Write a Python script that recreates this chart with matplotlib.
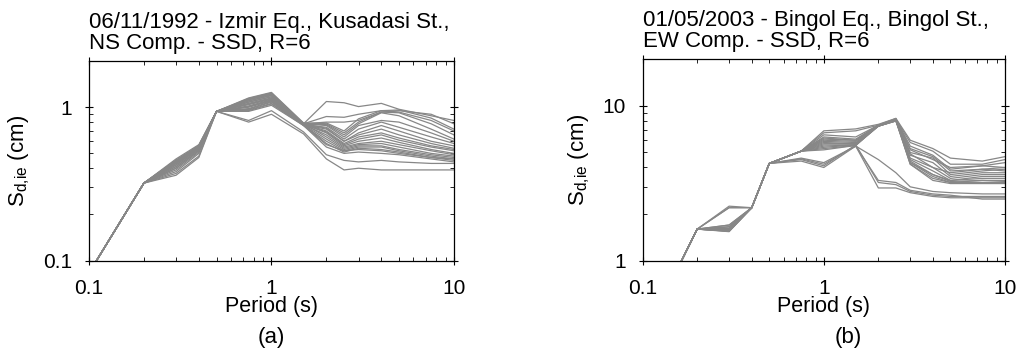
import numpy as np
import matplotlib.pyplot as plt
from matplotlib.ticker import FuncFormatter, NullFormatter

plt.rcParams['font.family'] = ['Liberation Sans', 'DejaVu Sans']
plt.rcParams['mathtext.fontset'] = 'custom'
plt.rcParams['mathtext.rm'] = 'Liberation Sans'

# spectral periods (s)
periods = [0.1, 0.2, 0.3, 0.4, 0.5, 0.75, 1.0, 1.5, 2.0, 2.5, 3.0, 4.0, 5.0, 7.5, 10.0]

# (a) Izmir Eq., Kusadasi St., NS - inelastic displacement (cm)
sd_izmir = [
    [0.083, 0.32, 0.44, 0.55, 0.94, 1.12, 1.22, 0.78, 1.09, 1.07, 1.01, 1.06, 0.97, 0.88, 0.82],
    [0.083, 0.32, 0.45, 0.56, 0.94, 1.10, 1.20, 0.78, 0.87, 0.86, 0.90, 0.95, 0.96, 0.85, 0.72],
    [0.083, 0.32, 0.43, 0.55, 0.94, 1.08, 1.17, 0.78, 0.80, 0.80, 0.82, 0.93, 0.95, 0.90, 0.78],
    [0.083, 0.32, 0.46, 0.57, 0.94, 1.15, 1.25, 0.79, 0.78, 0.68, 0.80, 0.93, 0.92, 0.78, 0.66],
    [0.083, 0.32, 0.45, 0.56, 0.94, 1.13, 1.23, 0.78, 0.77, 0.66, 0.78, 0.92, 0.88, 0.72, 0.62],
    [0.083, 0.32, 0.44, 0.56, 0.94, 1.06, 1.15, 0.78, 0.76, 0.64, 0.76, 0.82, 0.80, 0.68, 0.60],
    [0.083, 0.32, 0.45, 0.55, 0.94, 1.10, 1.19, 0.77, 0.74, 0.62, 0.72, 0.80, 0.74, 0.64, 0.58],
    [0.083, 0.32, 0.44, 0.55, 0.94, 1.04, 1.13, 0.78, 0.73, 0.60, 0.68, 0.76, 0.70, 0.60, 0.56],
    [0.083, 0.32, 0.43, 0.54, 0.94, 1.12, 1.21, 0.77, 0.72, 0.60, 0.66, 0.72, 0.66, 0.58, 0.54],
    [0.083, 0.32, 0.44, 0.55, 0.94, 1.02, 1.12, 0.78, 0.70, 0.58, 0.64, 0.68, 0.63, 0.56, 0.53],
    [0.083, 0.32, 0.42, 0.54, 0.94, 1.08, 1.17, 0.77, 0.69, 0.57, 0.62, 0.66, 0.61, 0.55, 0.52],
    [0.083, 0.32, 0.43, 0.55, 0.94, 1.00, 1.10, 0.78, 0.68, 0.56, 0.60, 0.63, 0.59, 0.53, 0.50],
    [0.083, 0.32, 0.41, 0.53, 0.94, 0.98, 1.09, 0.77, 0.66, 0.55, 0.58, 0.60, 0.57, 0.52, 0.49],
    [0.083, 0.32, 0.42, 0.54, 0.94, 1.05, 1.14, 0.78, 0.64, 0.54, 0.57, 0.58, 0.55, 0.50, 0.48],
    [0.083, 0.32, 0.40, 0.52, 0.94, 0.97, 1.08, 0.77, 0.62, 0.53, 0.56, 0.56, 0.53, 0.49, 0.47],
    [0.083, 0.32, 0.41, 0.53, 0.94, 1.01, 1.11, 0.76, 0.60, 0.52, 0.55, 0.55, 0.52, 0.48, 0.46],
    [0.083, 0.32, 0.40, 0.52, 0.94, 0.96, 1.06, 0.77, 0.58, 0.51, 0.54, 0.53, 0.51, 0.47, 0.45],
    [0.083, 0.32, 0.39, 0.51, 0.94, 0.95, 1.05, 0.76, 0.57, 0.52, 0.53, 0.52, 0.50, 0.47, 0.46],
    [0.083, 0.32, 0.38, 0.50, 0.94, 0.82, 0.95, 0.69, 0.49, 0.45, 0.44, 0.45, 0.44, 0.43, 0.43],
    [0.083, 0.32, 0.37, 0.48, 0.94, 0.80, 0.90, 0.67, 0.46, 0.39, 0.40, 0.39, 0.39, 0.39, 0.39],
    [0.083, 0.32, 0.36, 0.47, 0.94, 0.94, 1.03, 0.76, 0.55, 0.50, 0.51, 0.50, 0.49, 0.46, 0.44],
    [0.083, 0.32, 0.45, 0.56, 0.94, 1.14, 1.24, 0.78, 0.79, 0.70, 0.84, 0.95, 0.93, 0.82, 0.70],
]

# (b) Bingol Eq., Bingol St., EW - inelastic displacement (cm)
sd_bingol = [
    [0.31, 1.6, 2.20, 2.2, 4.25, 5.1, 6.9, 7.1, 7.6, 8.3, 6.0, 5.3, 4.6, 4.4, 4.7],
    [0.31, 1.6, 1.70, 2.2, 4.25, 5.1, 6.7, 6.9, 7.5, 8.2, 5.8, 5.1, 4.2, 4.2, 4.5],
    [0.31, 1.6, 1.65, 2.2, 4.25, 5.1, 6.5, 6.3, 7.5, 8.2, 5.5, 4.8, 3.9, 4.1, 4.3],
    [0.31, 1.6, 1.60, 2.2, 4.25, 5.1, 6.3, 6.1, 7.5, 8.1, 5.3, 4.7, 3.8, 3.9, 4.0],
    [0.31, 1.6, 1.58, 2.2, 4.25, 5.1, 6.1, 6.0, 7.4, 8.1, 5.0, 4.6, 3.6, 3.8, 3.9],
    [0.31, 1.6, 1.56, 2.2, 4.25, 5.1, 6.0, 5.9, 7.4, 8.0, 4.8, 4.3, 3.5, 3.7, 3.7],
    [0.31, 1.6, 1.55, 2.2, 4.25, 5.1, 5.9, 5.8, 7.4, 8.0, 4.6, 4.0, 3.4, 3.6, 3.6],
    [0.31, 1.6, 1.60, 2.2, 4.25, 5.1, 5.7, 5.7, 7.5, 8.1, 4.5, 3.8, 3.3, 3.5, 3.5],
    [0.31, 1.6, 1.62, 2.2, 4.25, 5.1, 5.6, 5.6, 7.5, 8.2, 4.4, 3.6, 3.3, 3.4, 3.4],
    [0.31, 1.6, 1.66, 2.2, 4.25, 5.1, 5.5, 5.6, 7.4, 8.1, 4.3, 3.5, 3.2, 3.3, 3.3],
    [0.31, 1.6, 1.70, 2.2, 4.25, 5.1, 5.3, 5.55, 7.4, 8.0, 4.2, 3.4, 3.2, 3.2, 3.2],
    [0.31, 1.6, 1.54, 2.2, 4.25, 5.1, 5.2, 5.55, 7.5, 8.1, 4.2, 3.3, 3.15, 3.15, 3.15],
    [0.31, 1.6, 2.20, 2.2, 4.25, 5.1, 5.8, 5.7, 7.5, 8.3, 5.2, 4.5, 4.0, 4.1, 4.0],
    [0.31, 1.6, 2.25, 2.2, 4.25, 5.1, 6.2, 6.0, 7.5, 8.2, 4.9, 4.0, 3.7, 3.9, 3.8],
    [0.31, 1.6, 1.58, 2.2, 4.25, 5.1, 5.4, 5.6, 7.4, 8.0, 4.3, 3.6, 3.25, 3.3, 3.25],
    [0.31, 1.6, 1.60, 2.2, 4.25, 4.6, 4.3, 5.5, 4.5, 3.7, 3.0, 2.8, 2.75, 2.7, 2.7],
    [0.31, 1.6, 1.56, 2.2, 4.25, 4.5, 4.1, 5.6, 3.2, 3.1, 2.8, 2.65, 2.6, 2.6, 2.6],
    [0.31, 1.6, 1.55, 2.2, 4.25, 4.4, 4.0, 5.5, 2.95, 2.95, 2.75, 2.6, 2.55, 2.55, 2.55],
    [0.31, 1.6, 1.60, 2.2, 4.25, 4.55, 4.2, 5.5, 3.3, 3.2, 2.85, 2.7, 2.65, 2.5, 2.5],
]

titles = ['06/11/1992 - Izmir Eq., Kusadasi St.,\nNS Comp. - SSD, R=6',
          '01/05/2003 - Bingol Eq., Bingol St.,\nEW Comp. - SSD, R=6']
ylims = [(0.1, 2.0), (1.0, 20.0)]
panel_tags = ['(a)', '(b)']

fig = plt.figure(figsize=(10.18, 3.58), dpi=100)
ax_a = fig.add_axes([0.0874, 0.2723, 0.3585, 0.557])
ax_b = fig.add_axes([0.6313, 0.2718, 0.3559, 0.5626])

fmt = FuncFormatter(lambda v, p: '%g' % v)

for ax, data, title, ylim in zip([ax_a, ax_b], [sd_izmir, sd_bingol], titles, ylims):
    for row in data:
        ax.plot(periods, row, color='#878787', lw=0.9)
    ax.set_xscale('log')
    ax.set_yscale('log')
    ax.set_xlim(0.1, 10)
    ax.set_ylim(*ylim)
    ax.xaxis.set_major_formatter(fmt)
    ax.yaxis.set_major_formatter(fmt)
    ax.xaxis.set_minor_formatter(NullFormatter())
    ax.yaxis.set_minor_formatter(NullFormatter())
    ax.tick_params(which='major', direction='inout', length=6, width=0.8,
                   top=True, right=True, labelsize=15)
    ax.tick_params(axis='x', which='major', pad=10)
    ax.tick_params(axis='y', which='major', pad=9)
    ax.tick_params(which='minor', direction='in', length=3, width=0.6,
                   top=True, right=True)
    for s in ax.spines.values():
        s.set_linewidth(0.9)
    ax.set_xlabel('Period (s)', fontsize=15.5, labelpad=-1)
    ax.set_ylabel('$\\mathregular{S_{d{,}ie}}$ (cm)', fontsize=16, labelpad=8)
    ax.set_title(title, loc='left', fontsize=16, linespacing=1.0, pad=9)

fig.text(0.2667, 0.057, panel_tags[0], ha='center', va='center', fontsize=16)
fig.text(0.833, 0.057, panel_tags[1], ha='center', va='center', fontsize=16)

fig.savefig('out.png', dpi=100)
